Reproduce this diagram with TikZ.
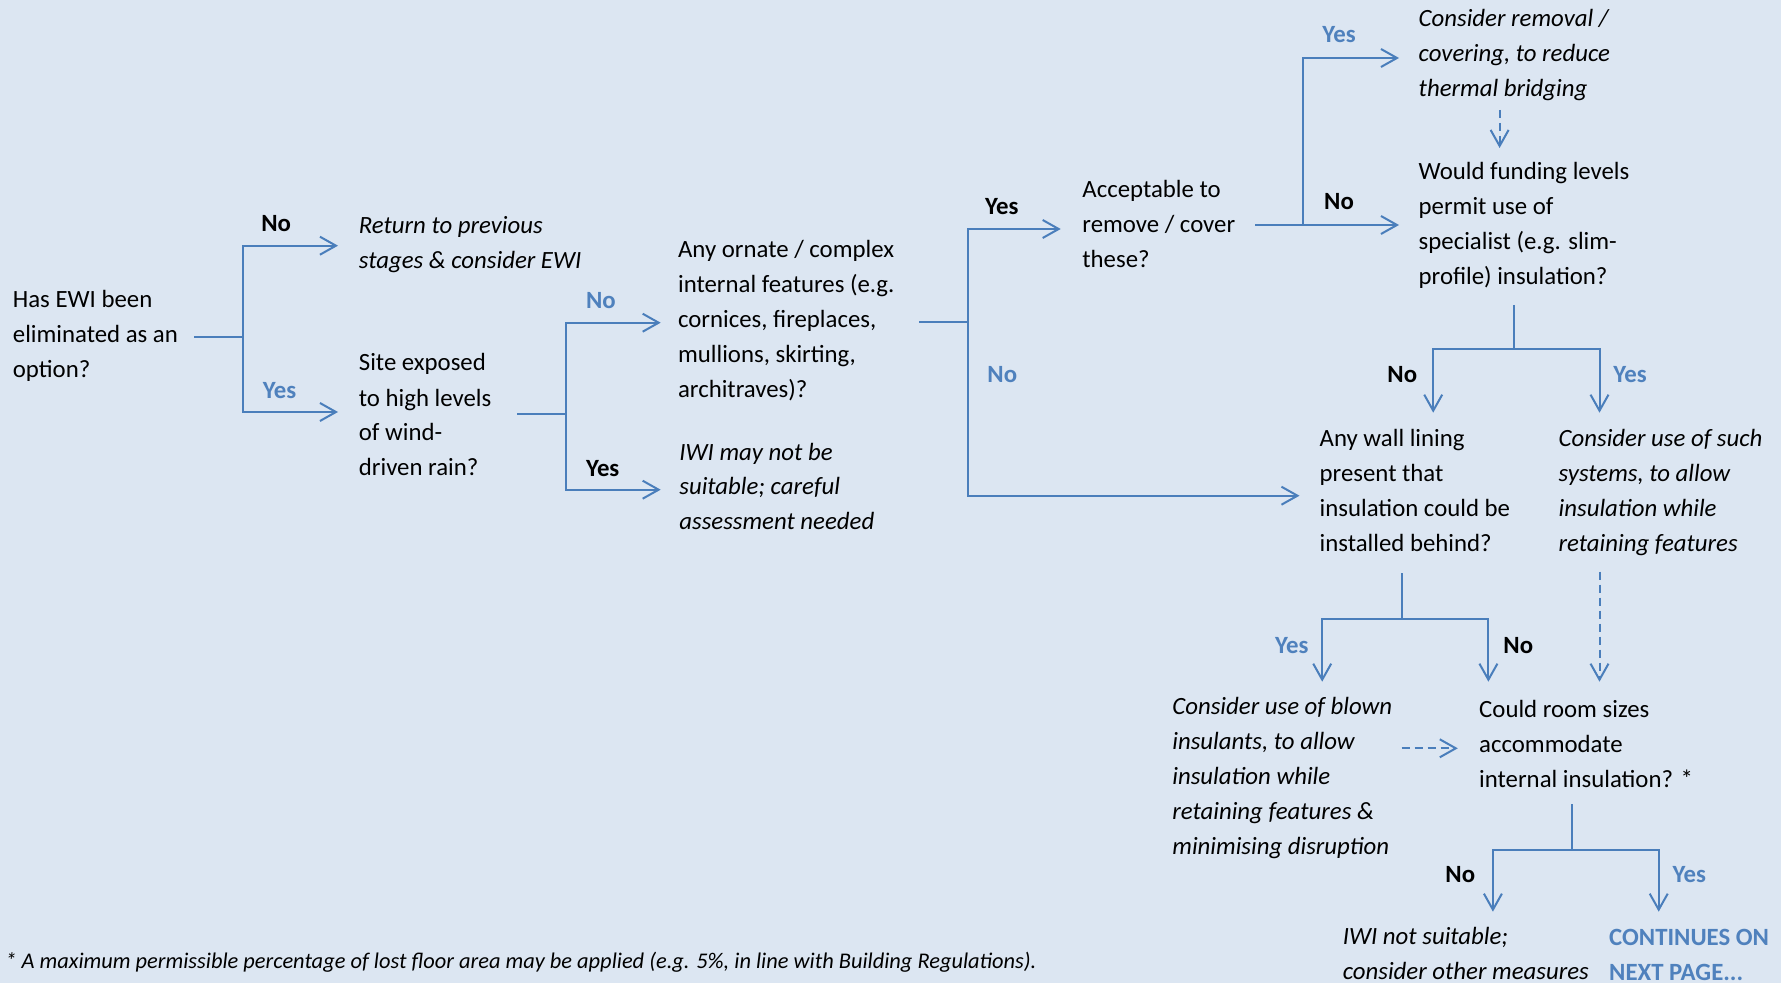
\documentclass[tikz,border=0pt]{standalone}
\usepackage{fontspec}
\setmainfont{Carlito}
\usetikzlibrary{arrows.meta}
\definecolor{bg}{HTML}{DCE6F2}
\definecolor{wirecol}{HTML}{4A7EBB}
\definecolor{labblue}{HTML}{4F81BD}
\tikzset{
  % multi-line text nodes are placed by the baseline of their last line
  txt/.style={anchor=base west, inner sep=0pt, align=left, font=\fontsize{12.4pt}{17.5pt}\selectfont},
  res/.style={txt, font=\fontsize{12.4pt}{17.5pt}\selectfont\itshape},
  lab/.style={anchor=base west, inner sep=0pt, font=\fontsize{12.4pt}{17.5pt}\selectfont\bfseries},
  labk/.style={lab, text=black},
  labb/.style={lab, text=labblue},
  wire/.style={draw=wirecol, line width=1pt},
  arr/.style={wire, -{Straight Barb[length=8pt,width=9pt]}},
  darr/.style={arr, dash pattern=on 4pt off 2.5pt},
}
\begin{document}
\begin{tikzpicture}[x=0.5pt,y=-0.5pt]
\fill[bg] (0,0) rectangle (1781,983);
\useasboundingbox (0,0) rectangle (1781,983);

% questions and outcomes
\node[txt] (q1) at (12.5,378) {Has EWI been\\eliminated as an\\option?};
\node[res] (r1) at (358.5,269) {Return to previous\\stages \& consider EWI};
\node[txt] (q2) at (358.5,476) {Site exposed\\to high levels\\of wind-\\driven rain?};
\node[txt] (q3) at (677.7,398) {Any ornate / complex\\internal features (e.g.\\cornices, fireplaces,\\mullions, skirting,\\architraves)?};
\node[res] (r2) at (679,530) {IWI may not be\\suitable; careful\\assessment needed};
\node[txt] (q4) at (1082,268) {Acceptable to\\remove / cover\\these?};
\node[res] (r3) at (1418.3,96.7) {Consider removal /\\covering, to reduce\\thermal bridging};
\node[txt] (q5) at (1418.3,285) {Would funding levels\\permit use of\\specialist (e.g. slim-\\profile) insulation?};
\node[txt] (q6) at (1319.3,551.7) {Any wall lining\\present that\\insulation could be\\installed behind?};
\node[res] (r4) at (1558.3,551.7) {Consider use of such\\systems, to allow\\insulation while\\retaining features};
\node[res] (r5) at (1172,854) {Consider use of blown\\insulants, to allow\\insulation while\\retaining features \&\\minimising disruption};
\node[txt] (q7) at (1478.8,787.3) {Could room sizes\\accommodate\\internal insulation? *};
\node[res] (r6) at (1342.4,979) {IWI not suitable;\\consider other measures};
\node[txt, font=\fontsize{12.4pt}{17.5pt}\selectfont\bfseries, text=labblue] (r7) at (1608.8,980) {CONTINUES ON\\NEXT PAGE...};
\node[anchor=base west, inner sep=0pt, font=\fontsize{11.2pt}{13pt}\selectfont\itshape] (fn) at (5,968.3)
  {* A maximum permissible percentage of lost floor area may be applied (e.g. 5\%, in line with Building Regulations).};

% branch labels
\node[labk] (lA1) at (261,232) {No};
\node[labb] (lA2) at (262.5,399) {Yes};
\node[labb] (lB1) at (585.7,309) {No};
\node[labk] (lB2) at (585.7,477) {Yes};
\node[labk] (lC1) at (984.8,215) {Yes};
\node[labb] (lC2) at (987,383) {No};
\node[labb] (lD1) at (1322,43) {Yes};
\node[labk] (lD2) at (1323.8,210) {No};
\node[labk] (lF1) at (1387,383) {No};
\node[labb] (lF2) at (1613,383) {Yes};
\node[labb] (lG1) at (1274.7,653) {Yes};
\node[labk] (lG2) at (1503,653) {No};
\node[labk] (lJ1) at (1445,882.7) {No};
\node[labb] (lJ2) at (1672.3,882.7) {Yes};

% junction points and arrow ends
\coordinate (a0) at (194,336.7);   \coordinate (a1) at (243.3,336.7);
\coordinate (a2) at (338,245.7);   \coordinate (a3) at (338,412);
\coordinate (b0) at (517,413.7);   \coordinate (b1) at (566,413.7);
\coordinate (b2) at (660.7,322.7); \coordinate (b3) at (660.7,489.7);
\coordinate (c0) at (919,321.7);   \coordinate (c1) at (968,321.7);
\coordinate (c2) at (1060.7,229);  \coordinate (c3) at (1299.5,495.7);
\coordinate (d0) at (1255,225);    \coordinate (d1) at (1303.2,225);
\coordinate (d2) at (1399,58);     \coordinate (d3) at (1399,225);
\coordinate (e0) at (1499.6,110);  \coordinate (e1) at (1499.6,148);
\coordinate (f0) at (1513.8,305);  \coordinate (f1) at (1513.8,349.3);
\coordinate (f2) at (1433.2,412.7);\coordinate (f3) at (1599.5,412.7);
\coordinate (g0) at (1402.3,573.3);\coordinate (g1) at (1402.3,619.3);
\coordinate (g2) at (1322.2,681.7);\coordinate (g3) at (1488.4,681.7);
\coordinate (h0) at (1599.5,571.7);\coordinate (h1) at (1599.5,681.7);
\coordinate (i0) at (1401.5,748.3);\coordinate (i1) at (1457.8,748.3);
\coordinate (j0) at (1571.7,804);  \coordinate (j1) at (1571.7,850);
\coordinate (j2) at (1492.9,911.7);\coordinate (j3) at (1658.7,911.7);

% connectors
\draw[wire] (a0) -- (a1);
\draw[arr] (a1) |- (a2);
\draw[arr] (a1) |- (a3);

\draw[wire] (b0) -- (b1);
\draw[arr] (b1) |- (b2);
\draw[arr] (b1) |- (b3);

\draw[wire] (c0) -- (c1);
\draw[arr] (c1) |- (c2);
\draw[arr] (c1) |- (c3);

\draw[arr] (d0) -- (d3);
\draw[arr] (d1) |- (d2);

\draw[darr] (e0) -- (e1);

\draw[wire] (f0) -- (f1);
\draw[arr] (f1) -| (f2);
\draw[arr] (f1) -| (f3);

\draw[wire] (g0) -- (g1);
\draw[arr] (g1) -| (g2);
\draw[arr] (g1) -| (g3);

\draw[darr] (h0) -- (h1);
\draw[darr] (i0) -- (i1);

\draw[wire] (j0) -- (j1);
\draw[arr] (j1) -| (j2);
\draw[arr] (j1) -| (j3);
\end{tikzpicture}
\end{document}
